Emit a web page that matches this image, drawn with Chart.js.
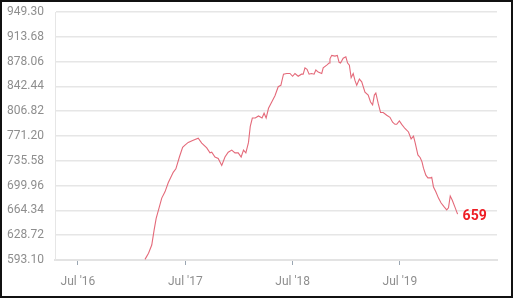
<!DOCTYPE html>
<html>
<head>
<meta charset="utf-8">
<script src="https://cdn.jsdelivr.net/npm/chart.js@4/dist/chart.umd.min.js"></script>
<style>
  html, body { margin: 0; padding: 0; background: #fff; font-family: Roboto, sans-serif; }
  #frame { position: absolute; left: 0; top: 0; width: 513px; height: 298px; box-sizing: border-box; border: 2px solid #111; background: #fff; }
  #wrap { position: absolute; left: 0; top: 0; width: 509px; height: 294px; }
</style>
</head>
<body>
<div id="frame"><div id="wrap"><canvas id="c" width="509" height="294"></canvas></div></div>
<script>
const dates = [
  '2017-02-14','2017-02-26','2017-03-09','2017-03-17','2017-03-24','2017-04-01','2017-04-12','2017-04-23',
  '2017-05-04','2017-05-21','2017-05-30','2017-06-11','2017-06-22','2017-06-30','2017-07-11','2017-07-28',
  '2017-08-14','2017-08-26','2017-09-12','2017-09-23','2017-09-29','2017-10-10','2017-10-21','2017-11-02',
  '2017-11-13','2017-11-24','2017-12-06','2017-12-17','2017-12-28','2018-01-07','2018-01-15','2018-01-23',
  '2018-02-01','2018-02-07','2018-02-14','2018-02-24','2018-03-07','2018-03-19','2018-03-26','2018-04-02',
  '2018-04-10','2018-04-21','2018-05-02','2018-05-13','2018-05-22','2018-05-31','2018-06-11','2018-06-22',
  '2018-07-01','2018-07-09','2018-07-20','2018-07-31','2018-08-06','2018-08-12','2018-08-19','2018-08-26',
  '2018-09-03','2018-09-12','2018-09-18','2018-09-26','2018-10-08','2018-10-13','2018-10-25','2018-11-02',
  '2018-11-05','2018-11-11','2018-11-22','2018-11-30','2018-12-06','2018-12-11','2018-12-20','2018-12-29',
  '2019-01-04','2019-01-10','2019-01-16','2019-01-23','2019-01-29','2019-02-04','2019-02-13','2019-02-21',
  '2019-03-04','2019-03-15','2019-03-23','2019-03-30','2019-04-05','2019-04-10','2019-04-18','2019-04-26',
  '2019-05-05','2019-05-17','2019-05-28','2019-06-06','2019-06-14','2019-06-20','2019-06-29','2019-07-07',
  '2019-07-18','2019-07-30','2019-08-08','2019-08-16','2019-08-22','2019-08-31','2019-09-08','2019-09-14',
  '2019-09-19','2019-09-27','2019-10-04','2019-10-12','2019-10-17','2019-10-23','2019-10-31','2019-11-09',
  '2019-11-18','2019-11-29','2019-12-07','2019-12-13','2019-12-19','2019-12-26','2020-01-04','2020-01-13'
];
const values = [
  594, 602.7, 614.6, 636, 653, 665, 682, 691,
  704, 719, 724, 741, 755, 758, 762, 765,
  768, 761, 754, 747, 748, 741, 739, 729,
  741, 748, 751, 747, 747, 741, 751, 747,
  762, 785, 797, 797, 800, 797, 804, 797,
  811, 820, 829, 842, 844, 860, 861, 861,
  857, 861, 857, 860, 860, 869, 867, 860,
  861, 860, 866, 863, 861, 869, 873, 876,
  882, 887, 886, 887, 877, 876, 883, 885,
  876, 873, 855, 861, 851, 844, 853, 849,
  834, 830, 820, 816, 830, 833, 818, 805,
  805, 801, 798, 791, 788, 788, 793, 788,
  782, 777, 767, 771, 761, 744, 740, 734,
  725, 715, 711, 711, 712, 698, 691, 682,
  675, 669, 665, 668, 685, 679, 669, 659
];
const xTickDates = ['2016-07-01','2017-07-01','2018-07-01','2019-07-01'];
const xRange = ['2016-04-14','2020-05-26'];
const yTicks = [593.10, 628.72, 664.34, 699.96, 735.58, 771.20, 806.82, 842.44, 878.06, 913.68, 949.30];
const monthNames = ['Jan','Feb','Mar','Apr','May','Jun','Jul','Aug','Sep','Oct','Nov','Dec'];

const ts = s => Date.parse(s + 'T00:00:00Z');
const points = dates.map((d, i) => ({ x: ts(d), y: values[i] }));
const fmtX = v => { const d = new Date(v); return monthNames[d.getUTCMonth()] + " '" + String(d.getUTCFullYear()).slice(2); };

const lastLabel = {
  id: 'lastLabel',
  afterDatasetsDraw(chart) {
    const meta = chart.getDatasetMeta(0);
    const pt = meta.data[meta.data.length - 1];
    const ctx = chart.ctx;
    ctx.save();
    ctx.font = 'bold 14px Roboto';
    ctx.fillStyle = '#ee1d24';
    ctx.textAlign = 'left';
    ctx.textBaseline = 'middle';
    ctx.fillText(String(Math.round(values[values.length - 1])), pt.x + 5, pt.y + 2);
    ctx.restore();
  }
};

function draw() {
  new Chart(document.getElementById('c'), {
    type: 'line',
    data: { datasets: [{ data: points, borderColor: '#e46a7a', borderWidth: 1.1, pointRadius: 0, tension: 0, fill: false }] },
    options: {
      responsive: false,
      animation: false,
      events: [],
      layout: { padding: { left: 5, right: 14, top: 10, bottom: 0 } },
      plugins: { legend: { display: false }, tooltip: { enabled: false } },
      scales: {
        x: {
          type: 'linear',
          min: ts(xRange[0]),
          max: ts(xRange[1]),
          afterBuildTicks: s => { s.ticks = xTickDates.map(d => ({ value: ts(d) })); },
          afterFit: s => { s.height = 36; s.paddingLeft = 0; s.paddingRight = 0; },
          ticks: { callback: v => fmtX(v), color: '#8e8e8e', font: { family: 'Roboto', size: 12 }, padding: 10, maxRotation: 0, autoSkip: false },
          grid: { drawOnChartArea: false, drawTicks: true, tickLength: 5, color: '#9aa6b2' },
          border: { display: true, color: '#e3e3e3', width: 2 }
        },
        y: {
          type: 'linear',
          min: yTicks[0],
          max: yTicks[yTicks.length - 1],
          afterBuildTicks: s => { s.ticks = yTicks.map(v => ({ value: v })); },
          afterFit: s => { s.width = 48; s.paddingTop = 0; s.paddingBottom = 0; },
          ticks: { callback: v => v.toFixed(2), color: '#8e8e8e', font: { family: 'Roboto', size: 12 }, padding: 11 },
          grid: { drawTicks: false, color: '#e6e6e6', lineWidth: 1.5 },
          border: { display: true, color: '#e6e6e6', width: 1 }
        }
      }
    },
    plugins: [lastLabel]
  });
}
Promise.all([
  document.fonts.load('12px Roboto'),
  document.fonts.load('bold 14px Roboto')
]).then(draw, draw);
</script>
</body>
</html>
